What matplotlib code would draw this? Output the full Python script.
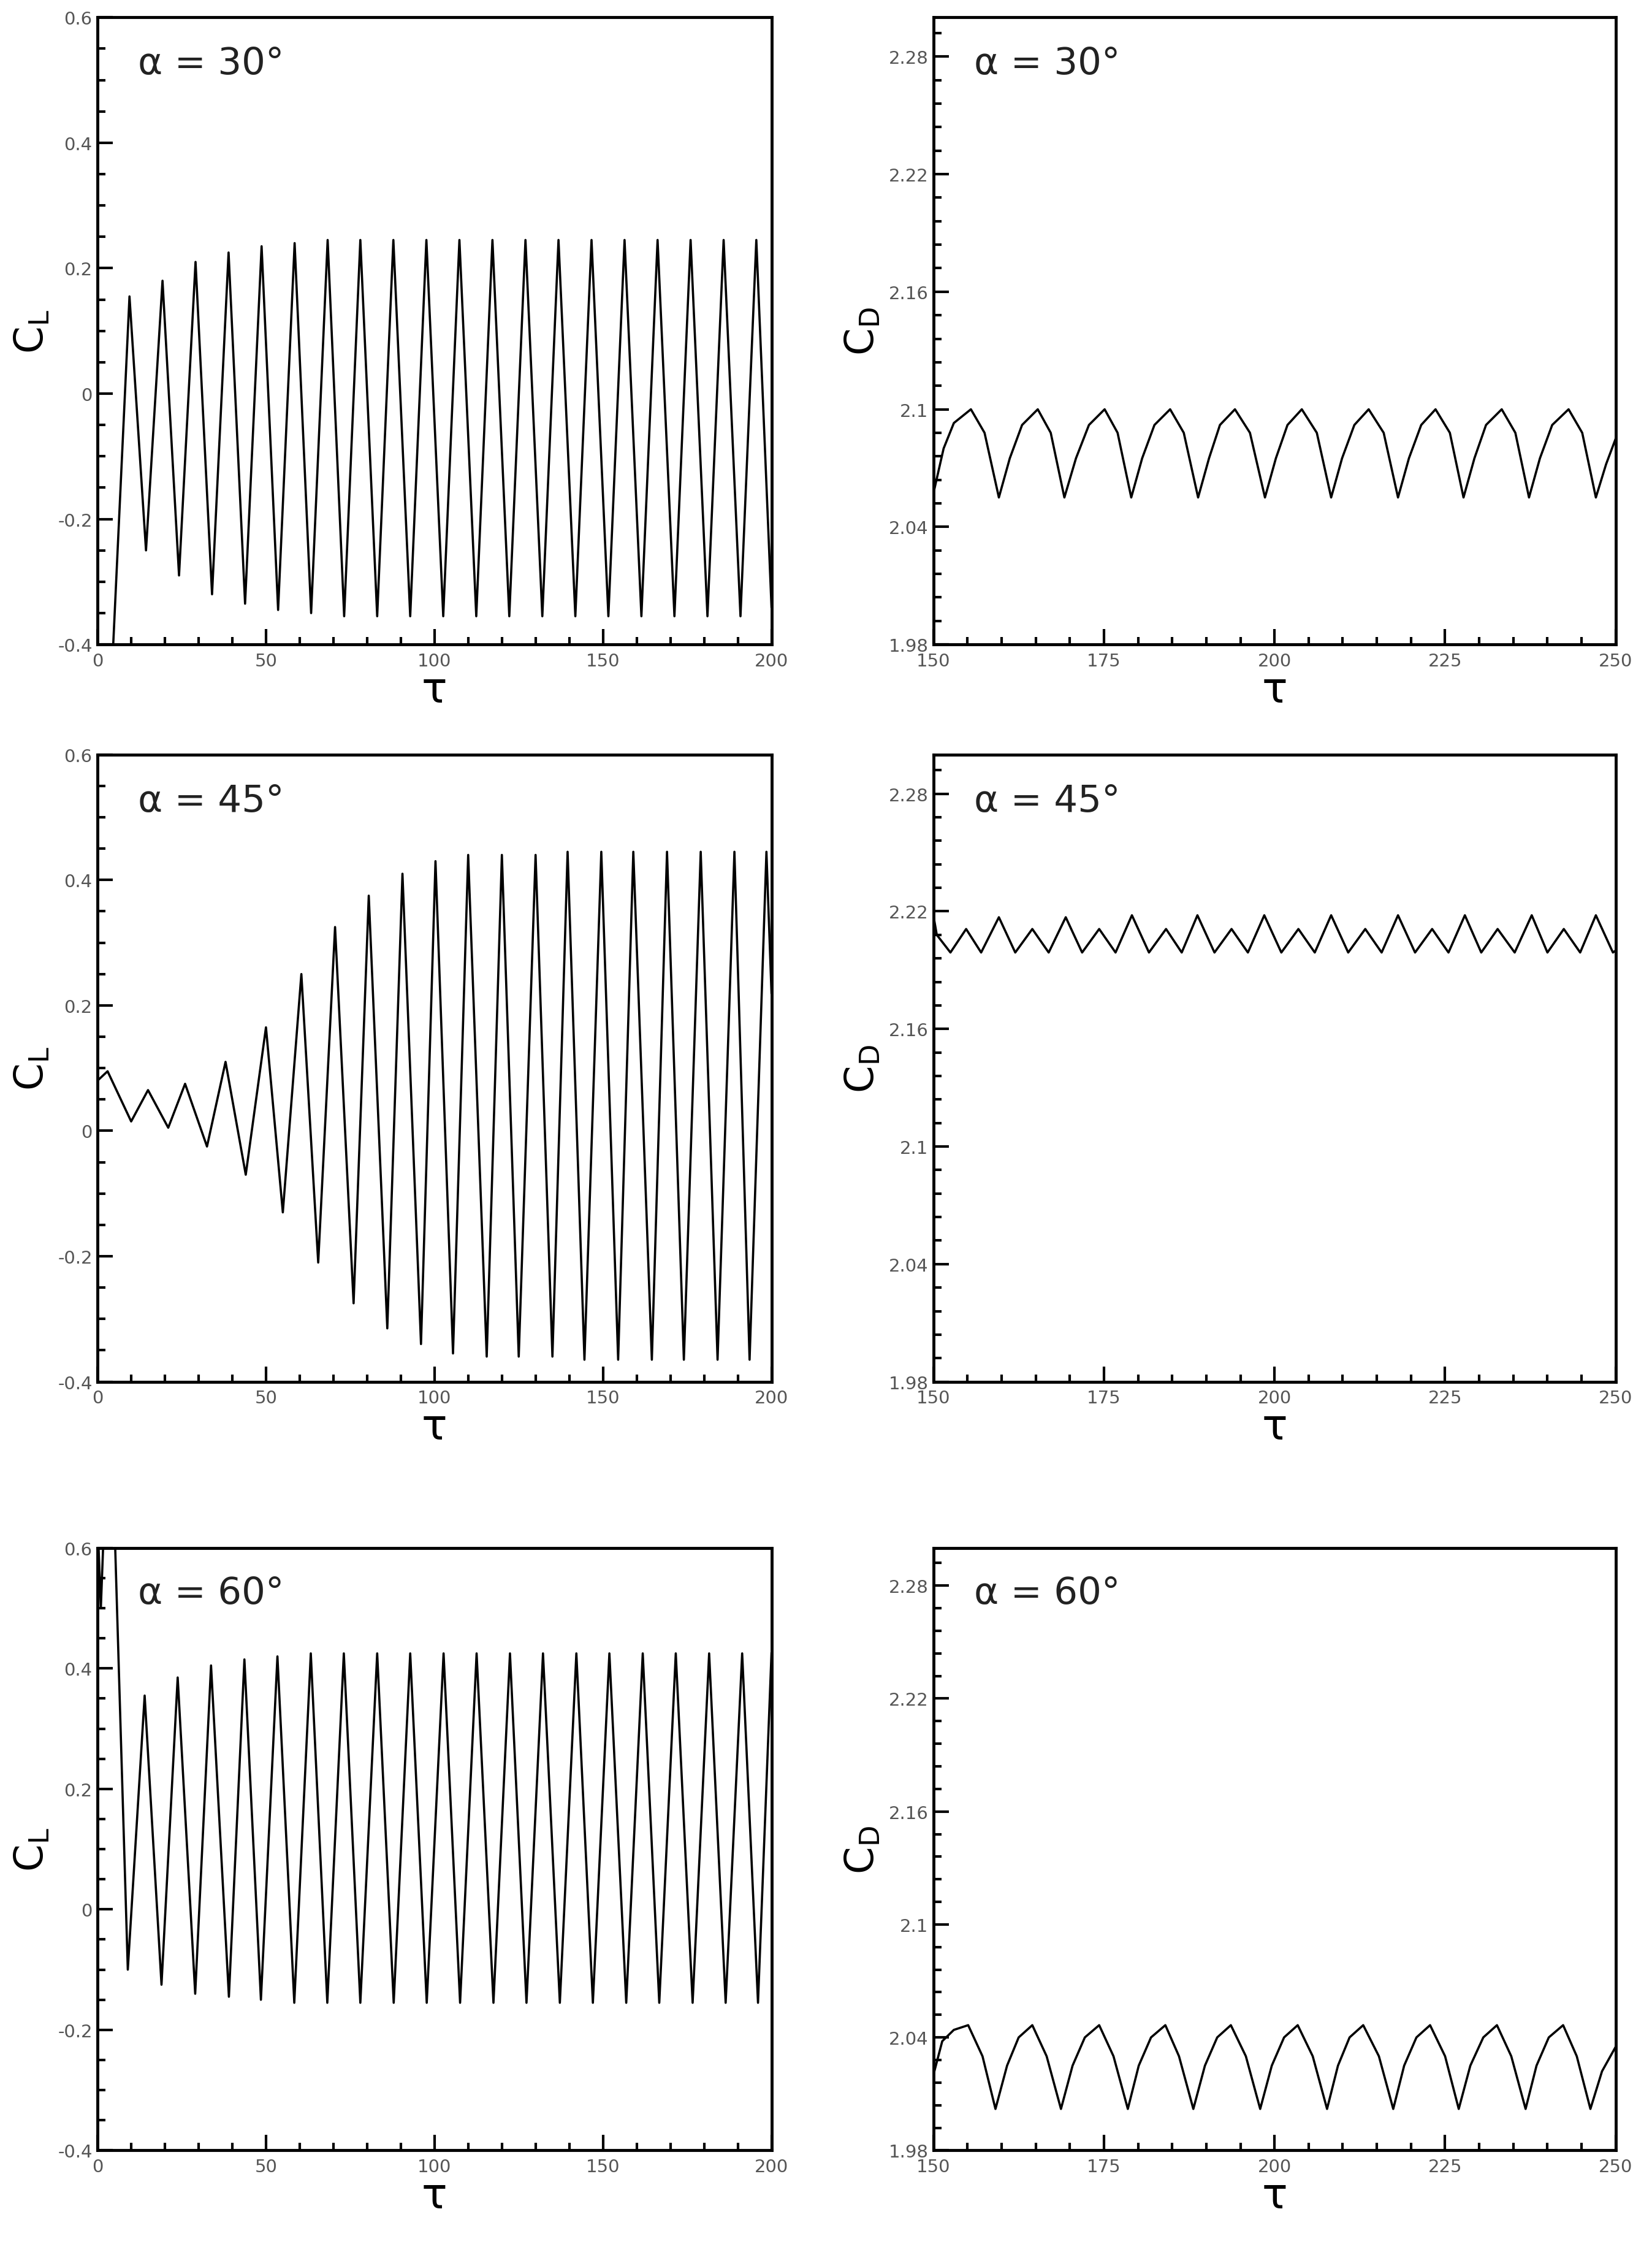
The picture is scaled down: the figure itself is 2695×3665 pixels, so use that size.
import numpy as np
import matplotlib
matplotlib.use("Agg")
import matplotlib.pyplot as plt
from matplotlib.ticker import MultipleLocator

# ---- C_L data: extrema ----
cl30_t = [0, 1.5, 4.5, 9.5, 14.4, 19.3, 24.2, 29.1, 34.0, 38.9, 43.8, 48.7, 53.6, 58.5, 63.4,
          68.3, 73.2, 78.0, 83.0, 87.8, 92.8, 97.6, 102.6, 107.4, 112.4, 117.2, 122.2, 127.0,
          132.0, 136.8, 141.8, 146.6, 151.6, 156.4, 161.4, 166.2, 171.2, 176.0, 181.0, 185.8,
          190.8, 195.5, 200.0]
cl30_v = [-0.45, -0.45, -0.42, 0.155, -0.25, 0.18, -0.29, 0.21, -0.32, 0.225, -0.335, 0.235,
          -0.345, 0.24, -0.35, 0.245, -0.355, 0.245, -0.355, 0.245, -0.355, 0.245, -0.355,
          0.245, -0.355, 0.245, -0.355, 0.245, -0.355, 0.245, -0.355, 0.245, -0.355, 0.245,
          -0.355, 0.245, -0.355, 0.245, -0.355, 0.245, -0.355, 0.245, -0.34]

cl45_t = [0, 3, 10, 15, 21, 26, 32.5, 38, 44, 50, 55, 60.5, 65.5, 70.5, 76, 80.5, 86, 90.5,
          96, 100.3, 105.5, 110, 115.5, 120, 125, 130, 135, 139.5, 144.5, 149.5, 154.5, 159,
          164.5, 169, 174, 179, 184, 189, 193.5, 198.5, 200]
cl45_v = [0.08, 0.095, 0.015, 0.065, 0.005, 0.075, -0.025, 0.11, -0.07, 0.165, -0.13, 0.25,
          -0.21, 0.325, -0.275, 0.375, -0.315, 0.41, -0.34, 0.43, -0.355, 0.44, -0.36, 0.44,
          -0.36, 0.44, -0.36, 0.445, -0.365, 0.445, -0.365, 0.445, -0.365, 0.445, -0.365,
          0.445, -0.365, 0.445, -0.365, 0.445, 0.22]

cl60_t = [0, 1, 2, 5, 9, 14, 19, 23.8, 29, 33.7, 39, 43.6, 48.5, 53.4, 58.4, 63.3, 68.2, 73.1,
          78.0, 83.0, 87.9, 92.8, 97.7, 102.7, 107.6, 112.5, 117.5, 122.4, 127.3, 132.2,
          137.2, 142.1, 147.0, 151.9, 156.9, 161.8, 166.7, 171.6, 176.6, 181.5, 186.4,
          191.3, 196.0, 200]
cl60_v = [0.65, 0.5, 0.65, 0.65, -0.1, 0.355, -0.125, 0.385, -0.14, 0.405, -0.145, 0.415,
          -0.15, 0.42, -0.155, 0.425, -0.155, 0.425, -0.155, 0.425, -0.155, 0.425, -0.155,
          0.425, -0.155, 0.425, -0.155, 0.425, -0.155, 0.425, -0.155, 0.425, -0.155, 0.425,
          -0.155, 0.425, -0.155, 0.425, -0.155, 0.425, -0.155, 0.425, -0.155, 0.425]

# ---- C_D data ----
cd30_t = [150, 151.5, 153.0, 155.5, 157.5, 159.6, 161.2, 163.0, 165.3, 167.2, 169.2, 170.9,
          172.8, 175.1, 177.0, 179.0, 180.6, 182.4, 184.7, 186.7, 188.8, 190.4, 192.0, 194.2,
          196.4, 198.6, 200.2, 201.9, 204.0, 206.2, 208.3, 209.9, 211.7, 213.8, 216.0, 218.1,
          219.7, 221.5, 223.6, 225.7, 227.7, 229.3, 231.0, 233.3, 235.3, 237.3, 238.9, 240.7,
          243.1, 245.1, 247.1, 248.6, 250]
cd30_v = [2.057, 2.080, 2.093, 2.100, 2.088, 2.055, 2.075, 2.092, 2.100, 2.088, 2.055, 2.075,
          2.092, 2.100, 2.088, 2.055, 2.075, 2.092, 2.100, 2.088, 2.055, 2.075, 2.092, 2.100,
          2.088, 2.055, 2.075, 2.092, 2.100, 2.088, 2.055, 2.075, 2.092, 2.100, 2.088, 2.055,
          2.075, 2.092, 2.100, 2.088, 2.055, 2.075, 2.092, 2.100, 2.088, 2.055, 2.075, 2.092,
          2.100, 2.088, 2.055, 2.072, 2.085]

cd45_t = [150, 150.5, 152.5, 154.8, 157.0, 159.6, 162.0, 164.5, 166.9, 169.4, 171.8, 174.3,
          176.7, 179.1, 181.6, 184.1, 186.4, 188.7, 191.2, 193.7, 196.1, 198.5, 201.0, 203.5,
          205.9, 208.3, 210.8, 213.3, 215.7, 218.1, 220.6, 223.1, 225.5, 227.9, 230.3, 232.7,
          235.2, 237.7, 240.0, 242.4, 244.8, 247.1, 249.6, 250]
cd45_v = [2.218, 2.208, 2.199, 2.211, 2.199, 2.217, 2.199, 2.211, 2.199, 2.217, 2.199, 2.211,
          2.199, 2.218, 2.199, 2.211, 2.199, 2.218, 2.199, 2.211, 2.199, 2.218, 2.199, 2.211,
          2.199, 2.218, 2.199, 2.211, 2.199, 2.218, 2.199, 2.211, 2.199, 2.218, 2.199, 2.211,
          2.199, 2.218, 2.199, 2.211, 2.199, 2.218, 2.199, 2.200]

cd60_t = [150, 151.3, 153.0, 155.1, 157.2, 159.1, 160.8, 162.5, 164.5, 166.6, 168.7, 170.4,
          172.2, 174.3, 176.4, 178.5, 180.1, 181.9, 184.0, 186.0, 188.1, 189.8, 191.6, 193.6,
          195.8, 197.9, 199.6, 201.4, 203.4, 205.6, 207.7, 209.3, 211.0, 213.0, 215.3, 217.4,
          219.0, 220.8, 222.8, 225.0, 227.0, 228.7, 230.6, 232.6, 234.7, 236.8, 238.4, 240.2,
          242.3, 244.3, 246.3, 248.0, 250]
cd60_v = [2.020, 2.038, 2.044, 2.0465, 2.030, 2.002, 2.025, 2.040, 2.0465, 2.030, 2.002,
          2.025, 2.040, 2.0465, 2.030, 2.002, 2.025, 2.040, 2.0465, 2.030, 2.002, 2.025, 2.040,
          2.0465, 2.030, 2.002, 2.025, 2.040, 2.0465, 2.030, 2.002, 2.025, 2.040, 2.0465,
          2.030, 2.002, 2.025, 2.040, 2.0465, 2.030, 2.002, 2.025, 2.040, 2.0465, 2.030,
          2.002, 2.025, 2.040, 2.0465, 2.030, 2.002, 2.022, 2.035]

angles = ["30", "45", "60"]
cl_series = [(cl30_t, cl30_v), (cl45_t, cl45_v), (cl60_t, cl60_v)]
cd_series = [(cd30_t, cd30_v), (cd45_t, cd45_v), (cd60_t, cd60_v)]

fig = plt.figure(figsize=(26.95, 36.66), dpi=100)
rows = [(0.713, 0.992), (0.385, 0.664), (0.043, 0.311)]
cols = [(0.059, 0.467), (0.565, 0.978)]


def style(ax):
    for s in ax.spines.values():
        s.set_linewidth(3.5)
    ax.tick_params(which="both", direction="in", top=False, right=False,
                   labelsize=21, labelcolor="#555555", width=3)
    ax.tick_params(axis="x", pad=9)
    ax.tick_params(axis="y", pad=6)
    ax.tick_params(which="major", length=18)
    ax.tick_params(which="minor", length=9)


for i, a in enumerate(angles):
    b, t = rows[i]
    # lift coefficient
    ax = fig.add_axes([cols[0][0], b, cols[0][1] - cols[0][0], t - b])
    ax.plot(*cl_series[i], color="black", lw=2.6)
    ax.set_xlim(0, 200)
    ax.set_ylim(-0.4, 0.6)
    ax.xaxis.set_major_locator(MultipleLocator(50))
    ax.xaxis.set_minor_locator(MultipleLocator(10))
    ax.yaxis.set_minor_locator(MultipleLocator(0.05))
    ax.set_yticks([-0.4, -0.2, 0, 0.2, 0.4, 0.6])
    ax.set_yticklabels(["-0.4", "-0.2", "0", "0.2", "0.4", "0.6"])
    style(ax)
    ax.set_xlabel("τ", fontsize=50, labelpad=0)
    ax.set_ylabel(r"C$_{\rm L}$", fontsize=46, labelpad=8)
    ax.text(0.06, 0.955, "α = " + a + "°", transform=ax.transAxes,
            fontsize=44, va="top", color="#222222")

    # drag coefficient
    ax = fig.add_axes([cols[1][0], b, cols[1][1] - cols[1][0], t - b])
    ax.plot(*cd_series[i], color="black", lw=2.6)
    ax.set_xlim(150, 250)
    ax.set_ylim(1.98, 2.30)
    ax.xaxis.set_major_locator(MultipleLocator(25))
    ax.xaxis.set_minor_locator(MultipleLocator(5))
    ax.set_yticks([1.98, 2.04, 2.1, 2.16, 2.22, 2.28])
    ax.set_yticklabels(["1.98", "2.04", "2.1", "2.16", "2.22", "2.28"])
    ax.yaxis.set_minor_locator(MultipleLocator(0.012))
    style(ax)
    ax.set_xlabel("τ", fontsize=50, labelpad=0)
    ax.set_ylabel(r"C$_{\rm D}$", fontsize=46, labelpad=8)
    ax.text(0.06, 0.955, "α = " + a + "°", transform=ax.transAxes,
            fontsize=44, va="top", color="#222222")

fig.savefig("out.png", dpi=100, facecolor="white")
